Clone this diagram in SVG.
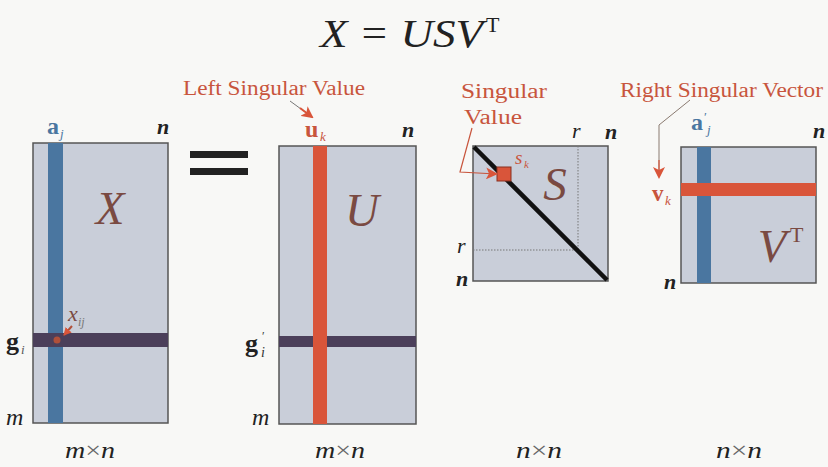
<svg xmlns="http://www.w3.org/2000/svg" width="828" height="467" viewBox="0 0 828 467">
<defs>
<style>
.mat{fill:#c9ced9;stroke:#555;stroke-width:1.5}
.blue{fill:#4a76a0}
.red{fill:#d9553a}
.dark{fill:#4b3f5a}
text{font-family:'Liberation Serif','Times New Roman','DejaVu Serif',serif}
.it{font-style:italic}
.lbl{fill:#c8553d;font-size:20px}
.dim{font-style:italic;font-size:22px;fill:#222}
.mn{font-style:italic;font-size:24px;fill:#222}
.big{font-style:italic;fill:#7a4a42;font-size:47px}
.dot{stroke:#777;stroke-width:1;stroke-dasharray:1.5 1.5;fill:none}
</style>
<marker id="ah" markerWidth="8" markerHeight="8" refX="7" refY="4" orient="auto" markerUnits="userSpaceOnUse">
<path d="M0,0 L8,4 L0,8 Z" fill="#d9553a"/>
</marker>
<marker id="ah2" markerWidth="12" markerHeight="12" refX="10" refY="6" orient="auto" markerUnits="userSpaceOnUse">
<path d="M0,0 L12,6 L0,12 L3,6 Z" fill="#d9553a"/>
</marker>
</defs>
<rect width="828" height="467" fill="#f8f8f6"/>

<g id="title">
<text class="it" x="320" y="47" font-size="40" fill="#222" textLength="163" lengthAdjust="spacingAndGlyphs">X = USV</text>
<text x="486" y="32" font-size="22" fill="#222">T</text>
</g>

<g id="matrixX">
<rect class="mat" x="33" y="143" width="135" height="280"/>
<rect class="blue" x="48" y="143" width="15" height="280"/>
<rect class="dark" x="33" y="333" width="135" height="14"/>
<circle cx="57" cy="340" r="3.5" fill="#b0503a"/>
<text x="47" y="134" font-size="24" font-weight="bold" fill="#4a76a0">a</text>
<text class="it" x="60" y="138" font-size="13" fill="#4a76a0">j</text>
<text class="dim" x="157" y="134" font-weight="bold">n</text>
<text class="big" x="110" y="224" text-anchor="middle">X</text>
<text class="it" x="68" y="321" font-size="22" fill="#7a4a42">x</text>
<text class="it" x="78" y="326" font-size="12" fill="#777">ij</text>
<text x="6" y="350" font-size="26" font-weight="bold" fill="#222">g</text>
<text class="it" x="21" y="354" font-size="13" fill="#555">i</text>
<text class="mn" x="6" y="425">m</text>
<text class="mn" x="90" y="458" text-anchor="middle" textLength="50" lengthAdjust="spacingAndGlyphs">m<tspan font-style="normal" fill="#666">×</tspan>n</text>
</g>

<g id="equals">
<rect x="190" y="151" width="58" height="7" fill="#222"/>
<rect x="190" y="168" width="58" height="7" fill="#222"/>
</g>

<g id="matrixU">
<rect class="mat" x="279" y="146" width="137" height="278"/>
<rect class="red" x="313" y="146" width="14" height="278"/>
<rect class="dark" x="279" y="336" width="34" height="11"/>
<rect class="dark" x="327" y="336" width="89" height="11"/>
<text class="lbl" x="183" y="95" textLength="182" lengthAdjust="spacingAndGlyphs">Left Singular Value</text>
<text x="305" y="137" font-size="24" font-weight="bold" fill="#c8553d">u</text>
<text class="it" x="320" y="141" font-size="13" fill="#c8553d">k</text>
<text class="dim" x="402" y="137" font-weight="bold">n</text>
<text class="big" x="362" y="226" text-anchor="middle">U</text>
<text x="245" y="352" font-size="26" font-weight="bold" fill="#222">g</text>
<text class="it" x="261" y="357" font-size="14" fill="#333">i</text>
<text x="262" y="340" font-size="12" fill="#333">′</text>
<text class="mn" x="252" y="425">m</text>
<text class="mn" x="315" y="458" textLength="50" lengthAdjust="spacingAndGlyphs">m<tspan font-style="normal" fill="#666">×</tspan>n</text>
</g>

<g id="matrixS">
<rect class="mat" x="473" y="146" width="135" height="135"/>
<line class="dot" x1="578" y1="146" x2="578" y2="250"/>
<line class="dot" x1="473" y1="250" x2="578" y2="250"/>
<line x1="474" y1="147" x2="607" y2="280" stroke="#111" stroke-width="4.5"/>
<rect x="497" y="167" width="14" height="14" fill="#d9553a" stroke="#8a3020" stroke-width="1"/>
<text class="lbl" x="461" y="98" font-size="22" textLength="86" lengthAdjust="spacingAndGlyphs">Singular</text>
<text class="lbl" x="464" y="124" font-size="22" textLength="58" lengthAdjust="spacingAndGlyphs">Value</text>
<text class="it" x="515" y="164" font-size="19" fill="#c8553d">s</text>
<text class="it" x="524" y="168" font-size="11" fill="#c8553d">k</text>
<text class="dim" x="572" y="138">r</text>
<text class="dim" x="605" y="139" font-weight="bold">n</text>
<text class="big" x="555" y="200" text-anchor="middle">S</text>
<text class="dim" x="457" y="253">r</text>
<text class="dim" x="456" y="286" font-weight="bold">n</text>
<text class="mn" x="516" y="458" textLength="46" lengthAdjust="spacingAndGlyphs">n<tspan font-style="normal" fill="#666">×</tspan>n</text>
</g>

<g id="matrixVT">
<rect class="mat" x="681" y="147" width="135" height="136"/>
<rect class="blue" x="697" y="147" width="14" height="136"/>
<rect class="red" x="681" y="183" width="135" height="13"/>
<text class="lbl" x="620" y="97" textLength="203" lengthAdjust="spacingAndGlyphs">Right Singular Vector</text>
<text x="691" y="130" font-size="24" font-weight="bold" fill="#4a76a0">a</text>
<text x="704" y="121" font-size="13" fill="#4a76a0">′</text>
<text class="it" x="707" y="134" font-size="13" fill="#4a76a0">j</text>
<text x="652" y="201" font-size="23" font-weight="bold" fill="#c8553d">v</text>
<text class="it" x="665" y="205" font-size="13" fill="#c8553d">k</text>
<text class="dim" x="664" y="289" font-weight="bold">n</text>
<text class="dim" x="813" y="138" font-weight="bold">n</text>
<text class="big" x="772" y="262" text-anchor="middle" font-size="42">V</text>
<text x="790" y="242" font-size="22" fill="#7a4a42">T</text>
<text class="mn" x="716" y="458" textLength="46" lengthAdjust="spacingAndGlyphs">n<tspan font-style="normal" fill="#666">×</tspan>n</text>
</g>

<g id="connectors">
<path d="M72,326 L64,335" stroke="#b0503a" stroke-width="2" fill="none" marker-end="url(#ah)"/>
<path d="M290,101 L312,117" stroke="#777" stroke-width="1" fill="none"/>
<path d="M300,108 L312,117" stroke="#d9553a" stroke-width="2" fill="none" marker-end="url(#ah2)"/>
<path d="M472,128 L460,172 L496,174" stroke="#c8553d" stroke-width="1.2" fill="none" marker-end="url(#ah2)"/>
<path d="M690,100 L659,125 L659,177" stroke="#8a7a70" stroke-width="1" fill="none"/>
<path d="M659,160 L659,177" stroke="#d9553a" stroke-width="1.2" fill="none" marker-end="url(#ah2)"/>
</g>
</svg>
